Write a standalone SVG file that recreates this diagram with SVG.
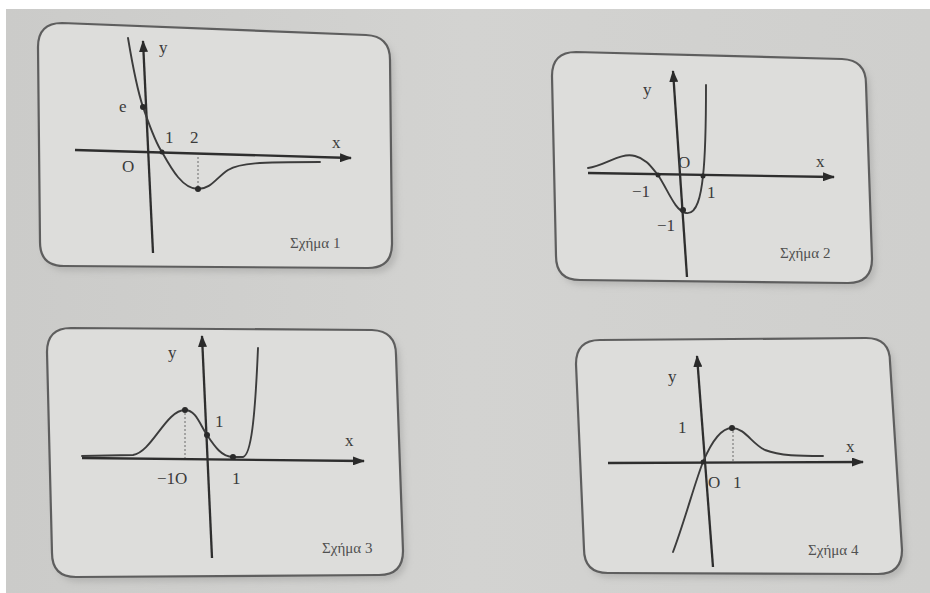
<svg xmlns="http://www.w3.org/2000/svg" width="930" height="593" viewBox="0 0 930 593">
<defs>
<linearGradient id="bg" x1="0" y1="0" x2="1" y2="0">
<stop offset="0" stop-color="#cbcbc9"/>
<stop offset="0.5" stop-color="#d3d3d1"/>
<stop offset="1" stop-color="#cfcfcd"/>
</linearGradient>
<filter id="blur" x="-5%" y="-5%" width="110%" height="110%"><feGaussianBlur stdDeviation="3"/></filter>
<marker id="arr" viewBox="0 0 12 9" refX="11" refY="4.5" markerWidth="12" markerHeight="9" markerUnits="userSpaceOnUse" orient="auto">
<path d="M0,0 L12,4.5 L0,9 Z" fill="#2a2a2a"/>
</marker>
</defs>
<style>
.card{fill:#dddddb;stroke:#5e5e5e;stroke-width:2.2}
.shadow{fill:#9d9d9b;opacity:0.5;filter:url(#blur)}
.axis{fill:none;stroke:#2e2e2e;stroke-width:2.3;marker-end:url(#arr)}
.curve{fill:none;stroke:#3c3c3c;stroke-width:1.9;stroke-linecap:round}
.dash{fill:none;stroke:#6a6a6a;stroke-width:1;stroke-dasharray:2 2}
.dot{fill:#2a2a2a}
.lbl{font-family:"Liberation Serif",serif;font-size:17px;fill:#3a3a3a}
.cap{font-family:"Liberation Serif",serif;font-size:15px;fill:#505050}
</style>
<rect x="0" y="0" width="930" height="593" fill="#ffffff"/>
<rect x="6" y="9" width="924" height="584" fill="url(#bg)"/>

<g id="panel1">
<path class="shadow" d="M66,28 L370,40 Q394,41 394,65 L397,249 Q397,273 373,273 L68,271 Q44,271 44,247 L42,52 Q42,28 66,28 Z"/>
<path class="card" d="M62,23 L366,35 Q390,36 390,60 L392,244 Q392,268 368,268 L64,266 Q40,266 40,242 L38,47 Q38,23 62,23 Z"/>
<line class="axis" x1="75" y1="150" x2="351" y2="158"/>
<line class="axis" x1="153" y1="253" x2="143" y2="41"/>
<path class="curve" d="M128,38 C133,68 138,92 143,107 C149,124 155,142 162,152 C172,170 183,189 198,189 C211,189 216,178 228,170 C240,163 258,162 320,162"/>
<line class="dash" x1="198" y1="157" x2="198" y2="187"/>
<circle class="dot" cx="143" cy="107" r="3"/>
<circle class="dot" cx="162" cy="152" r="2.5"/>
<circle class="dot" cx="198" cy="189" r="3"/>
<text class="lbl" x="159" y="53">y</text>
<text class="lbl" x="332" y="148">x</text>
<text class="lbl" x="119" y="112">e</text>
<text class="lbl" x="165" y="143">1</text>
<text class="lbl" x="190" y="143">2</text>
<text class="lbl" x="122" y="172">O</text>
<text class="cap" x="290" y="248">Σχήμα 1</text>
</g>

<g id="panel2">
<path class="shadow" d="M580,57 L846,64 Q870,65 870,89 L876,264 Q876,288 852,288 L584,285 Q560,285 560,261 L556,81 Q556,57 580,57 Z"/>
<path class="card" d="M576,52 L842,59 Q866,60 866,84 L872,259 Q872,283 848,283 L580,280 Q556,280 556,256 L552,76 Q552,52 576,52 Z"/>
<line class="axis" x1="588" y1="173" x2="834" y2="177"/>
<line class="axis" x1="687" y1="277" x2="673" y2="71"/>
<path class="curve" d="M588,168 C605,166 620,152 635,156 C647,159 652,168 658,175 C668,190 675,211 686,213 C697,215 701,195 703,176 C706,150 706,110 706,85"/>
<circle class="dot" cx="658" cy="175" r="2.5"/>
<circle class="dot" cx="703" cy="176" r="2.5"/>
<circle class="dot" cx="683" cy="210" r="3"/>
<text class="lbl" x="643" y="95">y</text>
<text class="lbl" x="816" y="167">x</text>
<text class="lbl" x="678" y="168">O</text>
<text class="lbl" x="632" y="197">−1</text>
<text class="lbl" x="707" y="198">1</text>
<text class="lbl" x="657" y="231">−1</text>
<text class="cap" x="780" y="258">Σχήμα 2</text>
</g>

<g id="panel3">
<path class="shadow" d="M75,333 L376,335 Q400,336 400,360 L407,556 Q407,580 383,580 L80,582 Q56,582 56,558 L51,357 Q51,333 75,333 Z"/>
<path class="card" d="M71,328 L372,330 Q396,331 396,355 L403,551 Q403,575 379,575 L76,577 Q52,577 52,553 L47,352 Q47,328 71,328 Z"/>
<line class="axis" x1="82" y1="458" x2="364" y2="461"/>
<line class="axis" x1="212" y1="558" x2="202" y2="336"/>
<path class="curve" d="M82,456 L133,455 C152,452 166,410 185,410 C196,410 200,425 207,435 C215,447 222,457 233,457 L243,457 C251,455 255,420 258,348"/>
<line class="dash" x1="185" y1="413" x2="185" y2="458"/>
<circle class="dot" cx="185" cy="410" r="3"/>
<circle class="dot" cx="207" cy="435" r="3"/>
<circle class="dot" cx="233" cy="457" r="3"/>
<text class="lbl" x="168" y="358">y</text>
<text class="lbl" x="345" y="446">x</text>
<text class="lbl" x="215" y="427">1</text>
<text class="lbl" x="157" y="484">−1O</text>
<text class="lbl" x="232" y="484">1</text>
<text class="cap" x="322" y="553">Σχήμα 3</text>
</g>

<g id="panel4">
<path class="shadow" d="M604,345 L870,343 Q894,343 894,367 L906,555 Q906,579 882,579 L612,578 Q588,578 588,554 L580,369 Q580,345 604,345 Z"/>
<path class="card" d="M600,340 L866,338 Q890,338 890,362 L902,550 Q902,574 878,574 L608,573 Q584,573 584,549 L576,364 Q576,340 600,340 Z"/>
<line class="axis" x1="608" y1="463" x2="863" y2="462"/>
<line class="axis" x1="713" y1="567" x2="697" y2="356"/>
<path class="curve" d="M673,552 C685,520 695,482 703,462 C711,443 721,428 732,428 C745,428 752,444 765,450 C780,456 800,456 823,456"/>
<line class="dash" x1="733" y1="431" x2="733" y2="462"/>
<circle class="dot" cx="732" cy="428" r="3"/>
<circle class="dot" cx="703" cy="462" r="2.5"/>
<text class="lbl" x="668" y="382">y</text>
<text class="lbl" x="846" y="452">x</text>
<text class="lbl" x="678" y="433">1</text>
<text class="lbl" x="708" y="488">O</text>
<text class="lbl" x="733" y="488">1</text>
<text class="cap" x="808" y="555">Σχήμα 4</text>
</g>
</svg>
